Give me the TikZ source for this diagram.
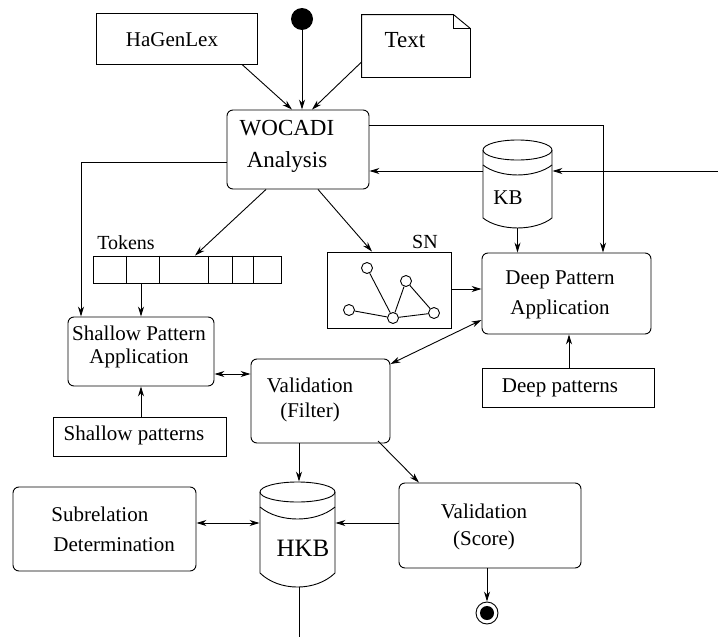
\documentclass[tikz,border=0pt]{standalone}
\usepackage{fontspec}
\setmainfont{Liberation Serif}
\usetikzlibrary{arrows.meta}

\tikzset{
  box/.style={draw, rectangle, inner sep=0pt},
  procbox/.style={draw, rectangle, rounded corners=6pt, inner sep=0pt},
  tlabel/.style={inner sep=0pt, align=center, font=\fontsize{21}{28}\selectfont},
  sncirc/.style={draw, circle, minimum size=11pt, inner sep=0pt, fill=white},
  arr/.style={-{Stealth[length=10pt,width=6pt]}},
  darr/.style={{Stealth[length=10pt,width=6pt]}-{Stealth[length=10pt,width=6pt]}},
}

\begin{document}
\begin{tikzpicture}[x=1pt,y=-1pt,line width=0.9pt]
\useasboundingbox (0,0) rectangle (718,637);
% inputs
\node[box, minimum width=161pt, minimum height=51pt] (hagen) at (176.5,38.5) {};
\node[tlabel] (hagentxt) at (172,40) {HaGenLex};
\node[circle, fill, minimum size=22pt, inner sep=0pt] (start) at (302,19) {};
\node[minimum width=108pt, minimum height=62pt, inner sep=0pt] (txt) at (416,46) {};
\draw (txt.north west) -- ([xshift=-17pt]txt.north east) -- ([yshift=-14pt]txt.north east)
  -- (txt.south east) -- (txt.south west) -- cycle;
\draw ([xshift=-17pt]txt.north east) -- ([xshift=-17pt,yshift=-14pt]txt.north east)
  -- ([yshift=-14pt]txt.north east);
\node[tlabel, font=\fontsize{23}{28}\selectfont] (txttxt) at (405,40) {Text};
% analysis
\node[procbox, minimum width=142pt, minimum height=79pt] (wocadi) at (298,149.5) {};
\node[tlabel, font=\fontsize{23}{32}\selectfont] (wocaditxt) at (287,146) {WOCADI\\Analysis};
% knowledge base
\node[minimum width=69pt, minimum height=88pt, inner sep=0pt] (kb) at (517.5,184) {};
\draw (517.5,150) ellipse [x radius=34.5, y radius=10];
\draw (483,165) .. controls (500,178.3) and (535,178.3) .. (552,165);
\draw (483,150) -- (483,218) .. controls (500,231.3) and (535,231.3) .. (552,218) -- (552,150);
\node[tlabel] (kbtxt) at (508,198) {KB};
% tokens
\node[box, minimum width=188pt, minimum height=27pt] (tokens) at (187,269.5) {};
\foreach \x in {126,159,208,232,253}
  \draw (\x,0 |- tokens.north) -- (\x,0 |- tokens.south);
\node[tlabel, font=\fontsize{20}{24}\selectfont] (tokenstxt) at (126,243) {Tokens};
% semantic network
\node[box, minimum width=124pt, minimum height=76pt] (sn) at (389,290) {};
\node[tlabel, font=\fontsize{20}{24}\selectfont] (sntxt) at (425,242) {SN};
\node[sncirc] (sna) at (367,268) {};
\node[sncirc] (snb) at (406,281) {};
\node[sncirc] (snc) at (349,310) {};
\node[sncirc] (snd) at (393,318) {};
\node[sncirc] (sne) at (434,313) {};
\draw (sna) -- (snd);
\draw (snb) -- (snd);
\draw (snb) -- (sne);
\draw (snc) -- (snd);
\draw (snd) -- (sne);
% pattern application
\node[procbox, minimum width=146pt, minimum height=69pt] (shallow) at (141,351.5) {};
\node[tlabel, font=\fontsize{21}{23}\selectfont] (shallowtxt) at (139,346.5) {Shallow Pattern\\Application};
\node[box, minimum width=173pt, minimum height=39pt] (shallowpat) at (139.5,436.5) {};
\node[tlabel] (shallowpattxt) at (134,435) {Shallow patterns};
\node[procbox, minimum width=169pt, minimum height=81pt] (deep) at (566.5,293.5) {};
\node[tlabel, font=\fontsize{21}{30}\selectfont] (deeptxt) at (560,295) {Deep Pattern\\Application};
\node[box, minimum width=172pt, minimum height=39pt] (deeppat) at (568,387.5) {};
\node[tlabel] (deeppattxt) at (560,388) {Deep patterns};
% validation
\node[procbox, minimum width=139pt, minimum height=84pt] (filter) at (320.5,401) {};
\node[tlabel, font=\fontsize{21}{25}\selectfont] (filtertxt) at (310,400) {Validation\\(Filter)};
\node[procbox, minimum width=182pt, minimum height=85pt] (score) at (490,525.5) {};
\node[tlabel, font=\fontsize{21}{27}\selectfont] (scoretxt) at (484,526.5) {Validation\\(Score)};
% hypothesis knowledge base
\node[minimum width=75pt, minimum height=105pt, inner sep=0pt] (hkb) at (297.5,534.5) {};
\draw (297.5,492) ellipse [x radius=37.5, y radius=10];
\draw (260,507) .. controls (279,523) and (316,523) .. (335,507);
\draw (260,492) -- (260,573) .. controls (279,591.7) and (316,591.7) .. (335,573) -- (335,492);
\node[tlabel, font=\fontsize{25}{30}\selectfont] (hkbtxt) at (303,548) {HKB};
\node[procbox, minimum width=183pt, minimum height=84pt] (sub) at (104.5,529) {};
\node[tlabel, align=left, font=\fontsize{21}{30}\selectfont, anchor=west] (subtxt) at (51,529)
  {Subrelation\\\hspace*{2pt}Determination};
\node[draw, circle, minimum size=22pt, inner sep=0pt] (stop) at (487,613) {};
\node[circle, fill, minimum size=14pt, inner sep=0pt] (stopdot) at (stop) {};
\coordinate (extin) at (718,171);
\coordinate (hkbout) at (299,637);
% connectors
\draw[arr] (242,0 |- hagen.south) -- (292,0 |- wocadi.north);
\draw[arr] (start) -- (start |- wocadi.north);
\draw[arr] (txt.west |- 0,62) -- (312,0 |- wocadi.north);
\draw[arr] (wocadi.east |- 0,125) -| (603,0 |- deep.north);
\draw[arr] (extin) -- (kb.east |- extin);
\draw[arr] (kb.west |- extin) -- (wocadi.east |- extin);
\draw[arr] (kb.south) -- (kb.south |- deep.north);
\draw[arr] (266,0 |- wocadi.south) -- (195,0 |- tokens.north);
\draw[arr] (318,0 |- wocadi.south) -- (372,0 |- sn.north);
\draw[arr] (wocadi.west |- 0,162) -| (81,0 |- shallow.north);
\draw[arr] (141,0 |- tokens.south) -- (141,0 |- shallow.north);
\draw[arr] (sn.east |- 0,289) -- (deep.west |- 0,289);
\draw[darr] (deep.west |- 0,320) -- (filter.east |- 0,364);
\draw[darr] (shallow.east |- 0,374) -- (filter.west |- 0,374);
\draw[arr] (141,0 |- shallowpat.north) -- (141,0 |- shallow.south);
\draw[arr] (569,0 |- deeppat.north) -- (569,0 |- deep.south);
\draw[arr] (299,0 |- filter.south) -- (299,0 |- hkb.north);
\draw[arr] (378,441) -- (419,0 |- score.north);
\draw[arr] (score.west |- 0,523) -- (hkb.east |- 0,523);
\draw[darr] (sub.east |- 0,523) -- (hkb.west |- 0,523);
\draw (hkb.south -| hkbout) -- (hkbout);
\draw[arr] (487,0 |- score.south) -- (stop.north);
\end{tikzpicture}
\end{document}
